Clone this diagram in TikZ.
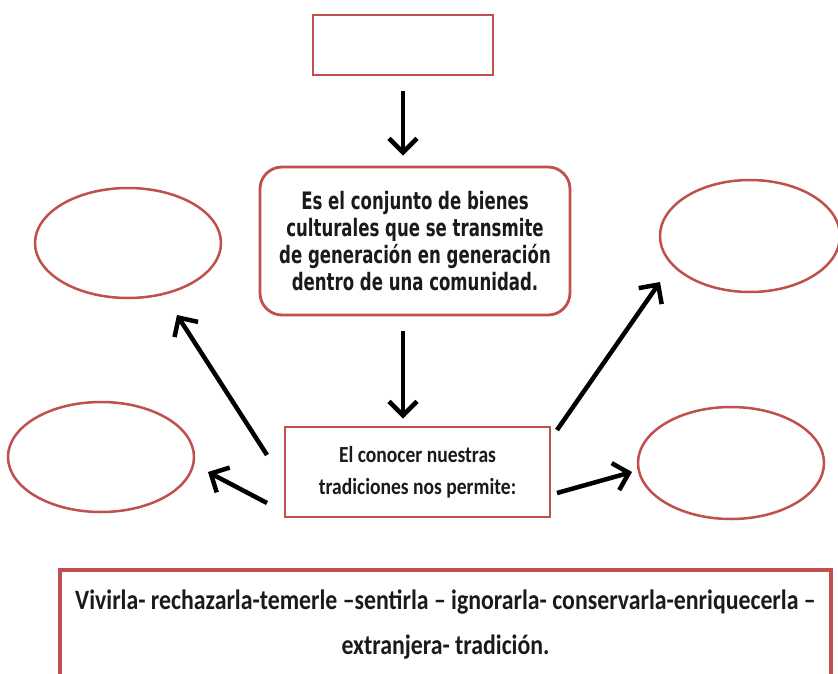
\documentclass[tikz,border=0pt]{standalone}
\usepackage{fontspec}
\usetikzlibrary{arrows.meta,shapes.geometric}
\newfontfamily\verdfont[FakeStretch=0.69]{DejaVu Sans}
\newfontfamily\calfont[FakeStretch=0.85]{Carlito}
\definecolor{boxred}{HTML}{C0504D}
\definecolor{ink}{HTML}{1A1A1A}
\begin{document}
\begin{tikzpicture}[x=1pt,y=-1pt,
  redbox/.style={draw=boxred, line width=2.8pt, fill=white, inner sep=0pt, text=ink, align=center},
  oval/.style={ellipse, draw=boxred, line width=2.5pt, minimum width=186pt, minimum height=110pt, inner sep=0pt},
  arr/.style={draw=black, line width=4.5pt, line join=round, -{Straight Barb[length=14pt,width=28pt]}},
]
\useasboundingbox (0,0) rectangle (838,673);
\clip (0,0) rectangle (838,673);
\fill[white] (0,0) rectangle (838,673);

\node[redbox, minimum width=180pt, minimum height=60pt] (top) at (403,45) {};
\node[redbox, rounded corners=22pt, minimum width=310pt, minimum height=148pt,
  font=\verdfont\bfseries\fontsize{24}{27}\selectfont] (def) at (415,241)
  {Es el conjunto de bienes\\culturales que se transmite\\de generación en generación\\dentro de una comunidad.};
\node[redbox, minimum width=265pt, minimum height=90pt,
  font=\calfont\bfseries\fontsize{23}{32}\selectfont] (per) at (417.5,472)
  {El conocer nuestras\\tradiciones nos permite:};
\node[redbox, line width=3.5pt, minimum width=771pt, minimum height=110pt,
  font=\calfont\bfseries\fontsize{28}{45}\selectfont] (words) at (445.5,625)
  {Vivirla- rechazarla-temerle –sentirla – ignorarla- conservarla-enriquecerla –\\extranjera- tradición.};

\node[oval] (lt) at (128,243) {};
\node[oval] (lb) at (101,457) {};
\node[oval, minimum width=180pt, minimum height=112pt] (rt) at (750,236) {};
\node[oval, minimum height=112pt] (rb) at (731,463) {};

\coordinate (ltA) at (267,455);
\coordinate (ltB) at (177,315);
\coordinate (lbA) at (267,503);
\coordinate (lbB) at (208,472);
\coordinate (rtA) at (557,430);
\coordinate (rtB) at (660,282);
\coordinate (rbA) at (557,493);
\coordinate (rbB) at (632,472);

\draw[arr, shorten <=15pt, shorten >=10pt] (top.south) -- (top.south |- def.north);
\draw[arr, shorten <=15pt, shorten >=7pt] (top.south |- def.south) -- (top.south |- per.north);
\draw[arr] (ltA) -- (ltB);
\draw[arr] (lbA) -- (lbB);
\draw[arr] (rtA) -- (rtB);
\draw[arr] (rbA) -- (rbB);
\end{tikzpicture}
\end{document}
